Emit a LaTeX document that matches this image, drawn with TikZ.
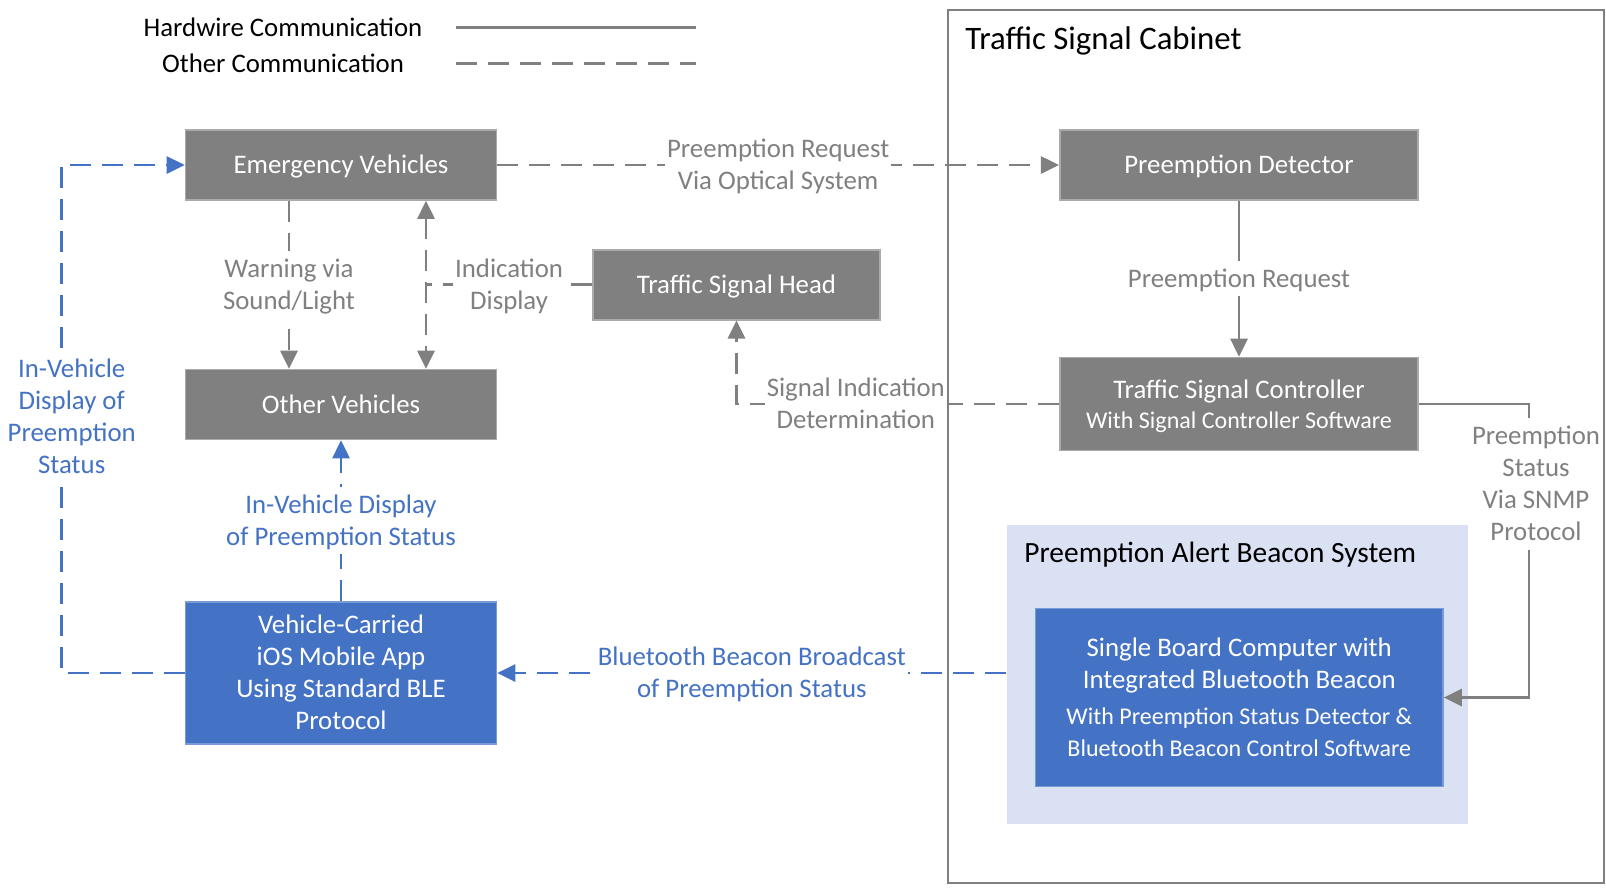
\documentclass[tikz,border=0pt]{standalone}
\usepackage{fontspec}
\setmainfont{Carlito}
\usetikzlibrary{arrows.meta}

\definecolor{boxgray}{RGB}{128,128,128}
\definecolor{edgegray}{RGB}{170,170,170}
\definecolor{msblue}{RGB}{68,114,196}
\definecolor{edgeblue}{RGB}{120,155,215}
\definecolor{paleblue}{RGB}{218,225,243}

\newcommand\lnstrut{\rule[-0.25em]{0pt}{1.17em}}
\newcommand\tx[1]{\lnstrut#1\lnstrut}
\newcommand\smallfnt{\fontsize{12}{16}\selectfont}

\tikzset{
  txt/.style={font=\fontsize{13.4}{16}\selectfont},
  title/.style={txt, anchor=west, inner sep=0pt},
  graybox/.style={txt, draw=edgegray, line width=0.8pt, fill=boxgray, text=white, align=center, inner sep=0pt},
  bluebox/.style={txt, draw=edgeblue, line width=0.8pt, fill=msblue, text=white, align=center, inner sep=0pt},
  link/.style={draw=boxgray, line width=1.4pt},
  dashlink/.style={link, dash pattern=on 10.5pt off 5.5pt},
  bluelink/.style={dashlink, draw=msblue},
  tip/.style={-{Triangle[length=9pt,width=8.5pt]}},
  lbl/.style={txt, text=boxgray, fill=white, align=center, inner sep=1pt},
  bluelbl/.style={lbl, text=msblue}
}

\begin{document}
\begin{tikzpicture}[x=0.5pt,y=-0.5pt]
\useasboundingbox (0,0) rectangle (1606,891);

% legend
\node[txt] (hwtext) at (283,27.6) {\tx{Hardwire Communication}};
\node[txt] (ottext) at (283,63.5) {\tx{Other Communication}};
\coordinate (hwa) at (456,27.6);
\coordinate (hwb) at (696,27.6);
\coordinate (ota) at (456,63.5);
\coordinate (otb) at (696,63.5);
\draw[link] (hwa) -- (hwb);
\draw[dashlink] (ota) -- (otb);

% cabinet and beacon system
\node[draw=boxgray, line width=1pt, minimum width=328pt, minimum height=436.5pt] (cabinet) at (1276,446.6) {};
\node[title, font=\fontsize{16.4}{18}\selectfont] (cabtitle) at (965,39) {\tx{Traffic Signal Cabinet}};
\node[fill=paleblue, minimum width=230.5pt, minimum height=149.5pt] (pab) at (1237.25,674) {};
\node[title, font=\fontsize{14.7}{17}\selectfont] (pabtitle) at (1024,553) {\tx{Preemption Alert Beacon System}};

% boxes
\node[graybox, minimum width=155.5pt, minimum height=35pt] (ev) at (341,165) {\tx{Emergency Vehicles}};
\node[graybox, minimum width=155.5pt, minimum height=35pt] (ov) at (341,404.5) {\tx{Other Vehicles}};
\node[graybox, minimum width=143.5pt, minimum height=35pt] (tsh) at (736.5,284.7) {\tx{Traffic Signal Head}};
\node[graybox, minimum width=179.25pt, minimum height=35pt] (pd) at (1239,165) {\tx{Preemption Detector}};
\node[graybox, minimum width=179.25pt, minimum height=46.5pt] (tsc) at (1239,404) {\tx{Traffic Signal Controller\\[-1pt]\smallfnt With Signal Controller Software}};
\node[bluebox, minimum width=155.5pt, minimum height=71pt] (vc) at (341,673) {\tx{Vehicle-Carried\\iOS Mobile App\\Using Standard BLE\\Protocol}};
\node[bluebox, minimum width=203.75pt, minimum height=89pt] (sbc) at (1239.25,697.5) {\tx{Single Board Computer with\\Integrated Bluetooth Beacon\\[2pt]\smallfnt With Preemption Status Detector \&\\\smallfnt Bluetooth Beacon Control Software}};

% connectors
\draw[dashlink, tip] (ev.east) -- (pd.west) node[lbl, midway] {\tx{Preemption Request\\Via Optical System}};
\draw[link, tip] (pd.south) -- (tsc.north) node[lbl, midway] {\tx{Preemption Request}};
\draw[dashlink, tip] ([xshift=-26pt]ev.south) -- ([xshift=-26pt]ov.north) node[lbl, midway] {\tx{Warning via\\Sound/Light}};
\coordinate (ind) at ([xshift=42.5pt]ev.south);
\draw[dashlink, {Triangle[length=9pt,width=8.5pt]}-{Triangle[length=9pt,width=8.5pt]}] (ind) -- (ind |- ov.north);
\draw[dashlink] (tsh.west) -- (ind |- tsh.west) node[lbl, midway] {\tx{Indication\\Display}};
\draw[dashlink, tip] (tsc.west) -- (tsc.west -| tsh.south) node[lbl, pos=0.63] {\tx{Signal Indication\\Determination}} -- (tsh.south);
\coordinate (snmp) at (1529,404);
\draw[link, tip] (tsc.east) -- (snmp) -- (snmp |- sbc.east) -- (sbc.east);
\node[lbl] (snmptext) at (1536,484) {\tx{Preemption\\Status\\Via SNMP\\Protocol}};
\draw[bluelink, tip] (vc.north) -- (ov.south) node[bluelbl, midway] {\tx{In-Vehicle Display\\of Preemption Status}};
\coordinate (loopx) at (61.5,673);
\draw[bluelink, tip] (vc.west) -- (loopx) -- (loopx |- ev.west) -- (ev.west);
\node[bluelbl] (looptext) at (71.7,417) {\tx{In-Vehicle\\Display of\\Preemption\\Status}};
\draw[bluelink, tip] (vc.east -| pab.west) -- (vc.east) node[bluelbl, midway] {\tx{Bluetooth Beacon Broadcast\\of Preemption Status}};
\end{tikzpicture}
\end{document}
